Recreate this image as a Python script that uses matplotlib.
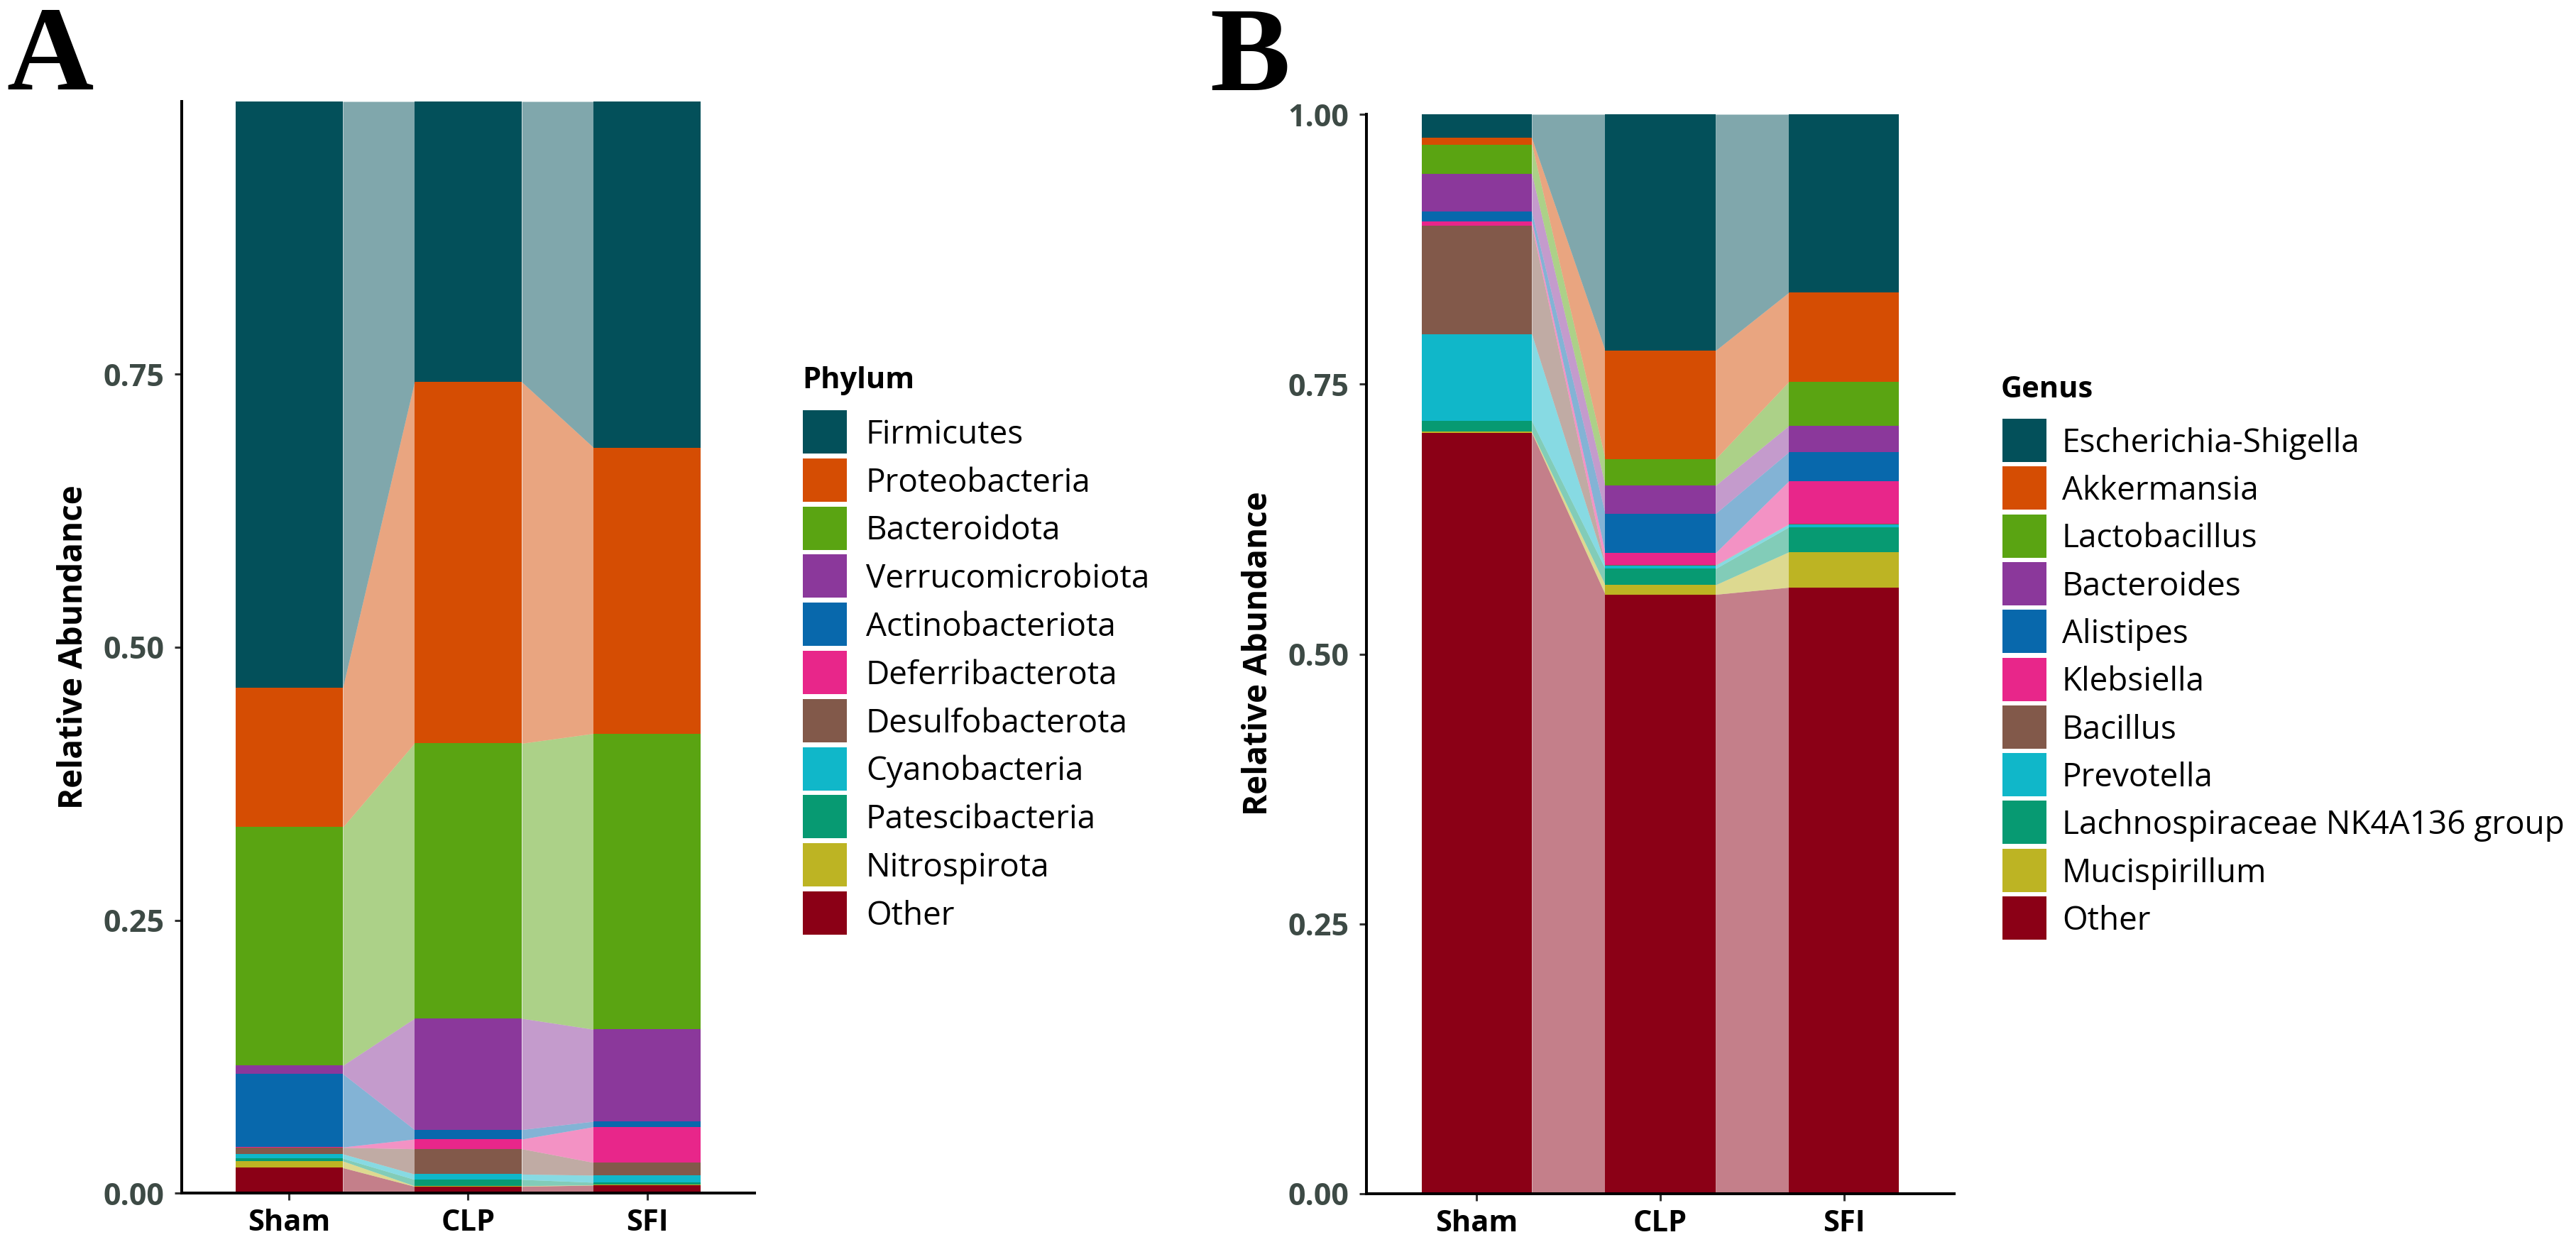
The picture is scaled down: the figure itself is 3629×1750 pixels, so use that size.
import numpy as np
import matplotlib
matplotlib.use('Agg')
import matplotlib.pyplot as plt
from matplotlib.patches import Rectangle

# ---------------- data ----------------
groups = ['Sham', 'CLP', 'SFI']

phyla = ['Firmicutes', 'Proteobacteria', 'Bacteroidota', 'Verrucomicrobiota',
         'Actinobacteriota', 'Deferribacterota', 'Desulfobacterota',
         'Cyanobacteria', 'Patescibacteria', 'Nitrospirota', 'Other']
sham_phylum = [0.5368, 0.1280, 0.2183, 0.0077, 0.0671, 0.0003, 0.0060, 0.0040, 0.0025, 0.0061, 0.0232]
clp_phylum  = [0.2570, 0.3310, 0.2520, 0.1019, 0.0087, 0.0089, 0.0232, 0.0049, 0.0058, 0.0005, 0.0061]
sfi_phylum  = [0.3170, 0.2620, 0.2710, 0.0843, 0.0050, 0.0327, 0.0117, 0.0065, 0.0023, 0.0003, 0.0072]

genera = ['Escherichia-Shigella', 'Akkermansia', 'Lactobacillus', 'Bacteroides',
          'Alistipes', 'Klebsiella', 'Bacillus', 'Prevotella',
          'Lachnospiraceae NK4A136 group', 'Mucispirillum', 'Other']
sham_genus = [0.0220, 0.0060, 0.0270, 0.0353, 0.0087, 0.0044, 0.1001, 0.0805, 0.0100, 0.0010, 0.7050]
clp_genus  = [0.2190, 0.1005, 0.0245, 0.0260, 0.0364, 0.0111, 0.0005, 0.0030, 0.0150, 0.0088, 0.5552]
sfi_genus  = [0.1650, 0.0827, 0.0407, 0.0244, 0.0268, 0.0399, 0.0002, 0.0027, 0.0230, 0.0328, 0.5618]

palette = ['#03505A', '#D54D03', '#5AA412', '#8B389B', '#0868AC', '#E8268A',
           '#82594A', '#10B7C9', '#079A72', '#BDB423', '#8B0016']

# ---------------- figure ----------------
W, H = 3630, 1750
fig = plt.figure(figsize=(W / 100, H / 100), dpi=100)
fig.patch.set_facecolor('white')

FONT = 'Open Sans'
TICK_COL = '#3D4A45'


def fx(px):
    return px / W


def fy(py):
    return 1 - py / H


def add_axes(l, r, t, b):
    return fig.add_axes([fx(l), fy(b), (r - l) / W, (b - t) / H])


def draw_panel(ax, table, yticks):
    x = np.arange(1, len(groups) + 1)
    vals = np.array(table)            # shape (groups, taxa)
    ntax = vals.shape[1]
    bottoms = np.zeros(len(groups))
    half = 0.3
    for t in reversed(range(ntax)):
        h = vals[:, t]
        col = palette[t]
        ax.bar(x, h, bottom=bottoms, width=2 * half, color=col, linewidth=0)
        for i in range(len(x) - 1):
            ax.fill_between([x[i] + half, x[i + 1] - half],
                            [bottoms[i], bottoms[i + 1]],
                            [bottoms[i] + h[i], bottoms[i + 1] + h[i + 1]],
                            color=col, alpha=0.5, linewidth=0)
        bottoms = bottoms + h
    ax.set_xlim(0.4, 3.6)
    ax.set_ylim(0, 1)
    ax.set_xticks(x)
    ax.set_xticklabels(groups, fontfamily=FONT, fontweight='bold',
                       fontsize=30, color='black')
    ax.set_yticks(yticks)
    ax.set_yticklabels(['%.2f' % v for v in yticks], fontfamily=FONT,
                       fontweight='bold', fontsize=31, color=TICK_COL)
    for s in ['top', 'right']:
        ax.spines[s].set_visible(False)
    for s in ['left', 'bottom']:
        ax.spines[s].set_linewidth(2.9)
        ax.spines[s].set_color('black')
    ax.tick_params(axis='both', length=7.5, width=2.2, color='#333333')
    ax.tick_params(axis='y', pad=10)
    ax.tick_params(axis='x', pad=8)
    ax.set_facecolor('white')


def draw_legend(title, names, key_left, key_top, pitch, text_left, title_left, title_base):
    key_w, key_h = 62, 61
    fs_pt = 33
    fs_px = fs_pt * 100 / 72
    fig.text(fx(title_left), fy(title_base), title, fontfamily=FONT, fontweight='bold',
             fontsize=30, ha='left', va='baseline', color='black')
    for k, name in enumerate(names):
        top = key_top + k * pitch
        fig.add_artist(Rectangle((fx(key_left), fy(top + key_h)), key_w / W, key_h / H,
                                 transform=fig.transFigure, facecolor=palette[k],
                                 edgecolor='none'))
        cy = top + key_h / 2
        fig.text(fx(text_left), fy(cy + 0.357 * fs_px), name, fontfamily=FONT,
                 fontsize=fs_pt, ha='left', va='baseline', color='black')


# Panel A
axA = add_axes(256, 1063, 143, 1681)
draw_panel(axA, [sham_phylum, clp_phylum, sfi_phylum], [0, 0.25, 0.5, 0.75])
fig.text(fx(116), fy(912), 'Relative Abundance', rotation=90, rotation_mode='anchor',
         ha='center', va='baseline', fontfamily=FONT, fontweight='bold', fontsize=33)
draw_legend('Phylum', phyla, 1131, 578, 67.8, 1220, 1130, 547)

# Panel B
axB = add_axes(1925, 2753, 161, 1682)
draw_panel(axB, [sham_genus, clp_genus, sfi_genus], [0, 0.25, 0.5, 0.75, 1.0])
fig.text(fx(1785), fy(921), 'Relative Abundance', rotation=90, rotation_mode='anchor',
         ha='center', va='baseline', fontfamily=FONT, fontweight='bold', fontsize=33)
draw_legend('Genus', genera, 2821, 590, 67.3, 2905, 2819, 560)

# Panel letters
fig.text(fx(9), fy(126), 'A', fontfamily='Liberation Serif', fontweight='bold',
         fontsize=122, ha='left', va='baseline')
fig.text(fx(1704), fy(127), 'B', fontfamily='Liberation Serif', fontweight='bold',
         fontsize=122, ha='left', va='baseline')

fig.savefig('out.png', dpi=100, facecolor='white')
